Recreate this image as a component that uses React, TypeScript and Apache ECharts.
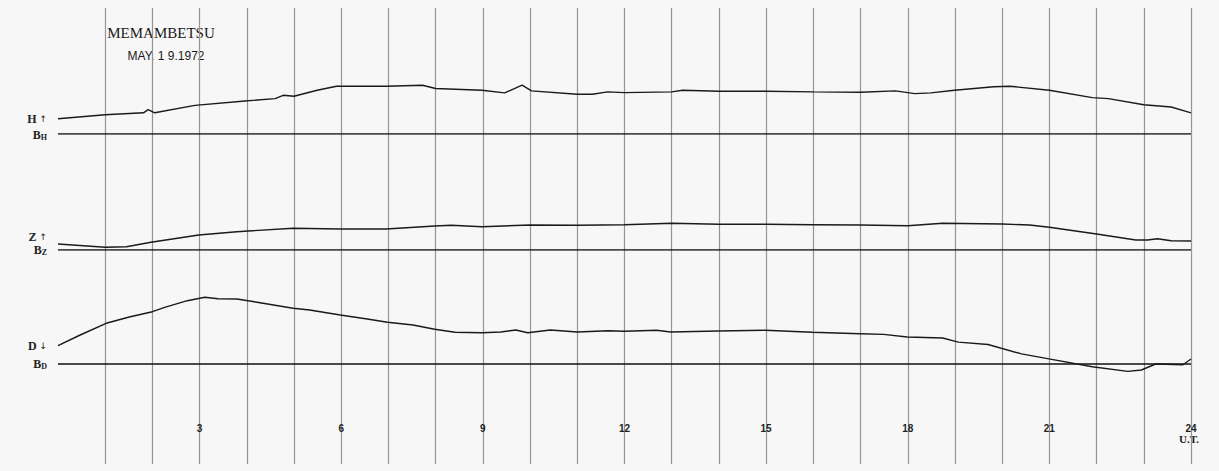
import React, { useEffect, useRef } from 'react';
import * as echarts from 'echarts';

// Hours (U.T.) and trace deflections above each baseline (chart units)
const hHours = [0, 1.0, 1.81, 1.91, 2.05, 2.9, 3.96, 4.6, 4.77, 5.0, 5.49, 5.9, 6.95, 7.72, 8.0, 8.98, 9.46, 9.83, 10.03, 11.0, 11.32, 11.64, 12, 13, 13.23, 14, 15, 16, 17, 17.74, 18.15, 18.49, 18.99, 19.82, 20.16, 21, 21.91, 22.25, 23, 23.58, 24];
const hValues = [15.2, 19.2, 21.2, 24.3, 21.2, 28.6, 33, 35.4, 38.7, 37.7, 43.8, 47.8, 47.8, 48.8, 45.5, 43.8, 41.1, 48.8, 43.1, 39.7, 39.7, 42.1, 41.4, 42.1, 43.8, 42.8, 42.8, 42.1, 41.8, 43.1, 40.4, 41.1, 43.8, 47.2, 47.8, 43.8, 36.4, 35.4, 29.3, 27, 21.2];

const zHours = [0, 1, 1.45, 1.97, 2.98, 3.79, 4.98, 5.98, 6.95, 7.98, 8.33, 8.98, 9.99, 11, 12, 13, 14, 15, 16, 17, 18, 18.74, 20, 20.58, 21, 22, 22.83, 23.08, 23.29, 23.58, 24];
const zValues = [6, 2.7, 3.3, 7.7, 15, 18.3, 21.7, 21, 21, 24, 24.7, 23.3, 25, 24.7, 25.3, 26.7, 25.7, 25.7, 25.3, 25, 24.3, 26.7, 26, 25, 22.7, 16, 10, 10, 11.3, 9.3, 9];

const dHours = [0, 0.47, 1.02, 1.53, 2.0, 2.26, 2.74, 3.11, 3.39, 3.79, 4.28, 4.98, 5.33, 5.98, 6.55, 6.98, 7.52, 7.98, 8.41, 8.98, 9.38, 9.7, 9.95, 10.43, 11, 11.65, 12, 12.68, 12.98, 13.98, 14.98, 15.98, 16.99, 17.49, 17.99, 18.74, 19.07, 19.7, 20.41, 20.99, 21.91, 22.66, 22.95, 23.25, 23.83, 24];
const dValues = [18.3, 29, 40.7, 47.3, 52.3, 56.7, 63.3, 66.7, 65.3, 65, 61.3, 55.7, 54, 49, 45, 41.7, 39, 34.7, 31.7, 31.3, 32, 34, 31.3, 34, 32, 33.3, 32.7, 33.7, 32, 33, 33.7, 31.7, 30.3, 29.6, 27, 26, 21.9, 19.5, 10.1, 5.1, -2.7, -7.4, -6, 0, -0.7, 5];

const baselineHours = [0, 24];
const baselineValues = [0, 0];

const hourTicks = [3, 6, 9, 12, 15, 18, 21, 24];

const zip = (xs: number[], ys: number[]) => xs.map((x, i) => [x, ys[i]]);

export default function App() {
  const ref = useRef<HTMLDivElement>(null);
  useEffect(() => {
    if (!ref.current) return;
    const chart = echarts.init(ref.current, undefined, { renderer: 'svg' });
    const L = 58, R = 28;
    const traceStyle = { color: '#1a1a1a', width: 1.4 };
    const baseStyle = { color: '#111', width: 1.6 };
    const labelFont = 'Liberation Serif';
    const mkLine = (gi: number, data: number[][], style: any) => ({
      type: 'line', xAxisIndex: gi, yAxisIndex: gi, data, symbol: 'none',
      lineStyle: style, silent: true,
    });
    const labRich = {
      a: { fontFamily: labelFont, fontSize: 12, lineHeight: 12, fontWeight: 'bold', fill: '#222' },
      r: { fontFamily: 'DejaVu Sans', fontSize: 9, lineHeight: 12, fill: '#222' },
      s: { fontFamily: labelFont, fontSize: 8, lineHeight: 12, fontWeight: 'bold', fill: '#222', verticalAlign: 'bottom' },
    };
    const lab = (text: string, y: number) => ({
      type: 'text', x: 47, y,
      style: { text, rich: labRich, align: 'right', verticalAlign: 'middle' },
    });
    chart.setOption({
      animation: false,
      backgroundColor: '#f7f7f7',
      grid: [
        { left: L, right: R, top: 8, bottom: 7 },
        { left: L, right: R, top: 70, height: 64 },
        { left: L, right: R, top: 210, height: 40 },
        { left: L, right: R, top: 284, height: 90 },
      ],
      xAxis: [
        {
          gridIndex: 0, type: 'value', min: 0, max: 24, interval: 1,
          axisLine: { show: false }, axisTick: { show: false }, axisLabel: { show: false },
          splitLine: { show: true, showMinLine: false, lineStyle: { color: '#959595', width: 1.2 } },
        },
        { gridIndex: 1, type: 'value', min: 0, max: 24, show: false },
        { gridIndex: 2, type: 'value', min: 0, max: 24, show: false },
        {
          gridIndex: 3, type: 'value', min: 0, max: 24, interval: 3,
          axisLine: { show: false }, axisTick: { show: false }, splitLine: { show: false },
          axisLabel: {
            margin: 49, fontFamily: 'Liberation Sans', fontWeight: 'bold', fontSize: 10, color: '#222',
            formatter: (v: number) => (hourTicks.includes(v) ? String(v) : ''),
          },
        },
      ],
      yAxis: [
        { gridIndex: 0, type: 'value', min: 0, max: 1, show: false },
        { gridIndex: 1, type: 'value', min: 0, max: 64, show: false },
        { gridIndex: 2, type: 'value', min: 0, max: 40, show: false },
        { gridIndex: 3, type: 'value', min: -10, max: 80, show: false },
      ],
      series: [
        mkLine(1, zip(baselineHours, baselineValues), baseStyle),
        mkLine(1, zip(hHours, hValues), traceStyle),
        mkLine(2, zip(baselineHours, baselineValues), baseStyle),
        mkLine(2, zip(zHours, zValues), traceStyle),
        mkLine(3, zip(baselineHours, baselineValues), baseStyle),
        mkLine(3, zip(dHours, dValues), traceStyle),
      ],
      graphic: [
        {
          type: 'text', x: 161, y: 33,
          style: { text: 'MEMAMBETSU', fontFamily: 'Liberation Serif', fontSize: 15, fill: '#1a1a1a', align: 'center', verticalAlign: 'middle' },
        },
        {
          type: 'text', x: 166, y: 56,
          style: { text: 'MAY. 1 9.1972', fontFamily: 'Liberation Sans', fontSize: 12, fill: '#1a1a1a', align: 'center', verticalAlign: 'middle' },
        },
        lab('{a|H}{r| ↑}', 119),
        lab('{a|B}{s|H}', 135),
        lab('{a|Z}{r| ↑}', 237),
        lab('{a|B}{s|Z}', 250),
        lab('{a|D}{r| ↓}', 346),
        lab('{a|B}{s|D}', 364),
        {
          type: 'text', x: 1189, y: 439,
          style: { text: 'U.T.', fontFamily: 'Liberation Serif', fontWeight: 'bold', fontSize: 11, fill: '#222', align: 'center', verticalAlign: 'middle' },
        },
      ],
    });
    return () => chart.dispose();
  }, []);
  return <div ref={ref} style={{ position: 'absolute', left: 0, top: 0, width: 1219, height: 471 }} />;
}
